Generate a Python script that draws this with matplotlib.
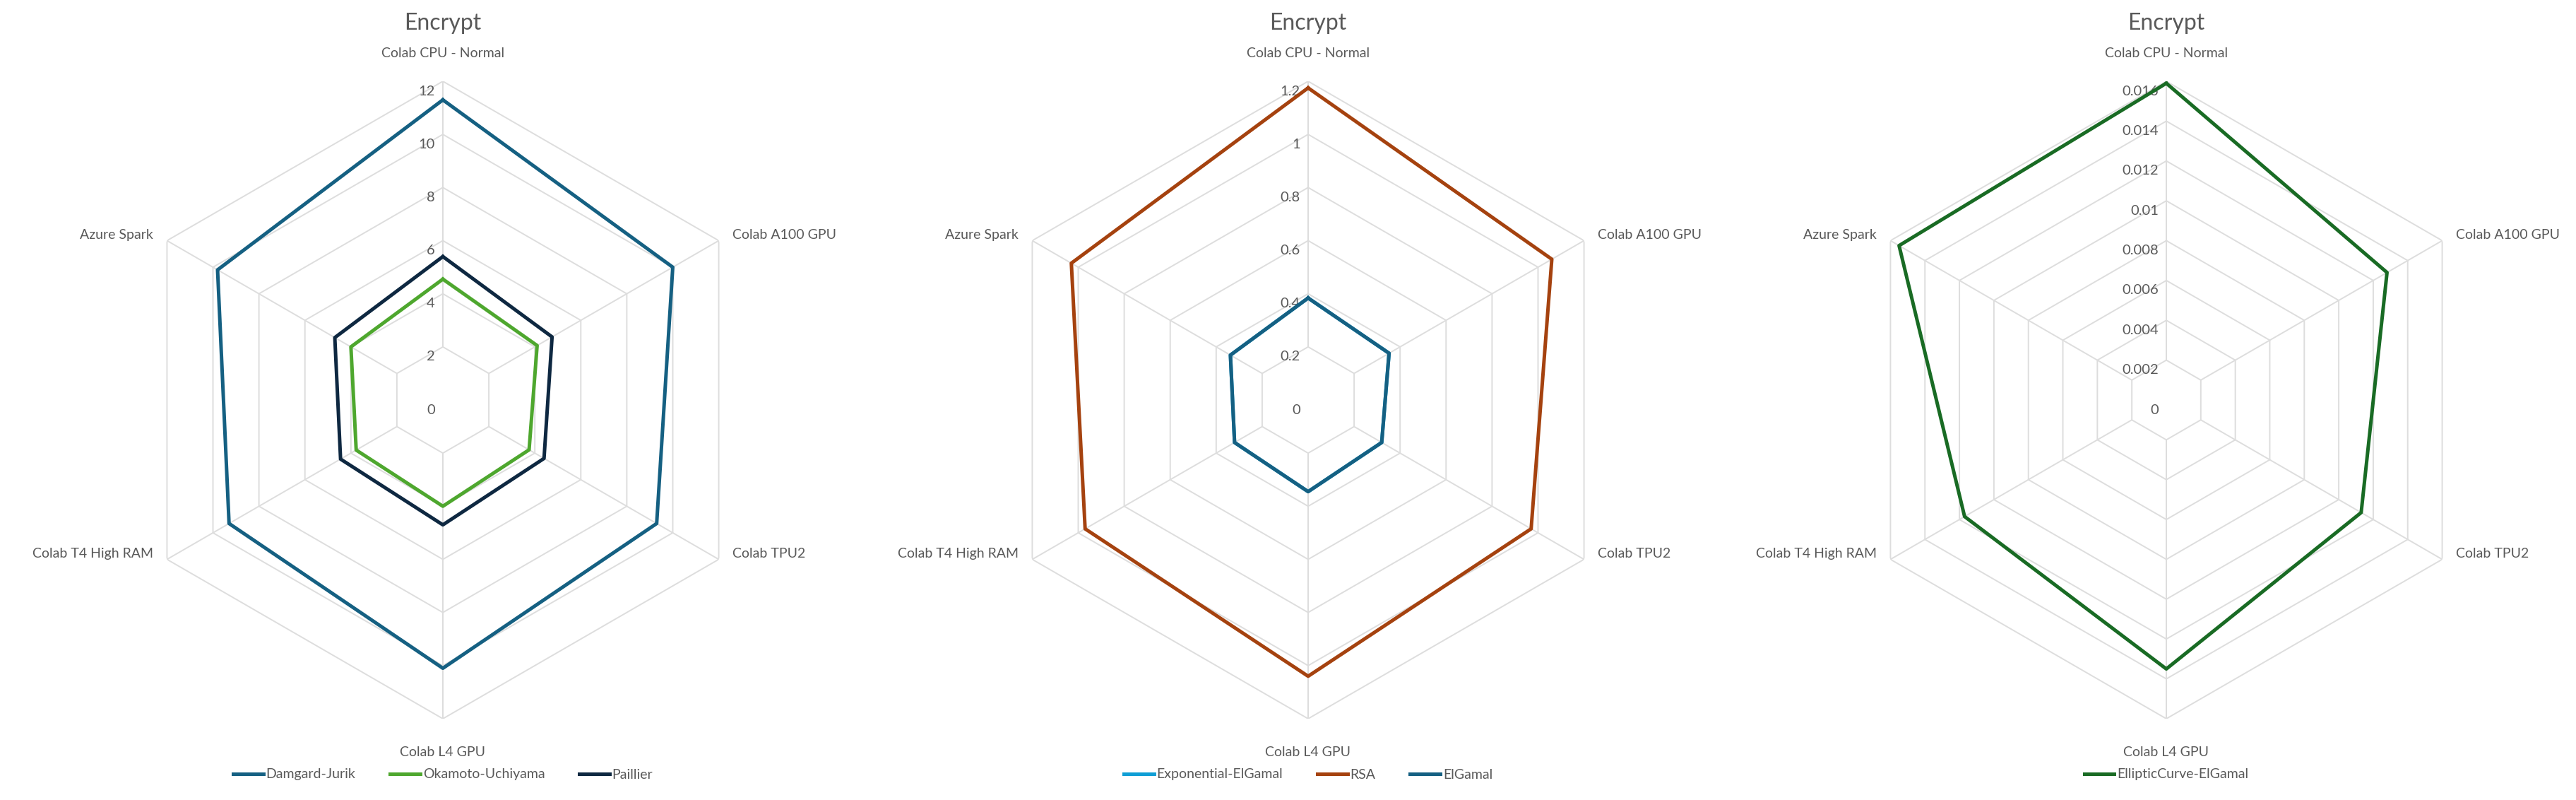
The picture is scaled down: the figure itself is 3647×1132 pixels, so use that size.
import numpy as np
import matplotlib
matplotlib.use("Agg")
from matplotlib import pyplot as plt

plt.rcParams["font.family"] = ["Lato", "DejaVu Sans"]

categories = ["Colab CPU - Normal", "Colab A100 GPU", "Colab TPU2",
              "Colab L4 GPU", "Colab T4 High RAM", "Azure Spark"]

# chart 1
damgard_jurik = [11.3, 10.0, 9.3, 10.1, 9.3, 9.8]
okamoto_uchiyama = [4.55, 4.1, 3.75, 4.0, 3.77, 4.0]
paillier = [5.4, 4.75, 4.4, 4.7, 4.45, 4.7]
# chart 2
exp_elgamal = [0.384, 0.352, 0.32, 0.345, 0.32, 0.338]
rsa = [1.175, 1.06, 0.97, 1.04, 0.97, 1.03]
elgamal = [0.384, 0.352, 0.32, 0.345, 0.32, 0.338]
# chart 3
ec_elgamal = [0.0159, 0.0128, 0.0113, 0.0135, 0.0117, 0.0155]

ticks1 = [0, 2, 4, 6, 8, 10, 12]
ticks2 = [0, 0.2, 0.4, 0.6, 0.8, 1.0, 1.2]
ticks3 = [0, 0.002, 0.004, 0.006, 0.008, 0.01, 0.012, 0.014, 0.016]
tick_labels1 = ["0", "2", "4", "6", "8", "10", "12"]
tick_labels2 = ["0", "0.2", "0.4", "0.6", "0.8", "1", "1.2"]
tick_labels3 = ["0", "0.002", "0.004", "0.006", "0.008", "0.01", "0.012", "0.014", "0.016"]

GREY = "#595959"
W, H = 3648, 1132
R_PX = 451
CY = 566

fig = plt.figure(figsize=(W / 100, H / 100), dpi=100)
fig.patch.set_facecolor("white")

angles = np.arange(6) * 2 * np.pi / 6
closed = np.append(angles, angles[0])


def radar(cx, ticks, tick_labels, series):
    ax = fig.add_axes([(cx - R_PX) / W, (H - CY - R_PX) / H, 2 * R_PX / W, 2 * R_PX / H],
                      projection="polar")
    ax.set_theta_offset(np.pi / 2)
    ax.set_theta_direction(-1)
    rmax = ticks[-1]
    ax.set_ylim(0, rmax)
    ax.grid(False)
    ax.spines["polar"].set_visible(False)
    ax.set_xticks([])
    ax.set_yticks([])
    ax.patch.set_alpha(0)

    # hexagonal grid rings and spokes
    for t in ticks[1:]:
        ax.plot(closed, [t] * 7, color="#DDDDDD", lw=1.4, zorder=1)
    for a in angles:
        ax.plot([a, a], [ticks[1], rmax], color="#DDDDDD", lw=1.4, zorder=1)
    for t, lab in zip(ticks, tick_labels):
        ax.annotate(lab, (0, t), xytext=(-8, -4), textcoords="offset points",
                    ha="right", va="top", fontsize=14.5, color=GREY)

    # category labels
    for a, name in zip(angles, categories):
        s, c = np.sin(a), np.cos(a)
        if abs(s) < 0.1:
            ax.annotate(name, (a, rmax), xytext=(0, 22 if c > 0 else -28),
                        textcoords="offset points", ha="center",
                        va="bottom" if c > 0 else "top", fontsize=14, color=GREY)
        else:
            ax.annotate(name, (a, rmax), xytext=(14 if s > 0 else -14, 6),
                        textcoords="offset points", ha="left" if s > 0 else "right",
                        va="center", fontsize=14, color=GREY)

    handles = []
    for vals, color, label in series:
        h, = ax.plot(closed, list(vals) + [vals[0]], color=color, lw=3.6, label=label, zorder=3)
        handles.append(h)

    fig.text(cx / W, 1 - 33 / H, "Encrypt", ha="center", va="center", fontsize=23, color=GREY)
    fig.legend(handles=handles, loc="center", bbox_to_anchor=(cx / W, 1 - 1096 / H),
               ncol=len(handles), frameon=False, fontsize=14, labelcolor=GREY,
               handlelength=2.2, handletextpad=0.2, columnspacing=2.5)


radar(627, ticks1, tick_labels1, [
    (damgard_jurik, "#156082", "Damgard-Jurik"),
    (okamoto_uchiyama, "#4EA72E", "Okamoto-Uchiyama"),
    (paillier, "#0E2841", "Paillier"),
])
radar(1852, ticks2, tick_labels2, [
    (exp_elgamal, "#0F9ED5", "Exponential-ElGamal"),
    (rsa, "#A5420F", "RSA"),
    (elgamal, "#156082", "ElGamal"),
])
radar(3067, ticks3, tick_labels3, [
    (ec_elgamal, "#196B24", "EllipticCurve-ElGamal"),
])

fig.savefig("out.png", dpi=100, facecolor="white")
